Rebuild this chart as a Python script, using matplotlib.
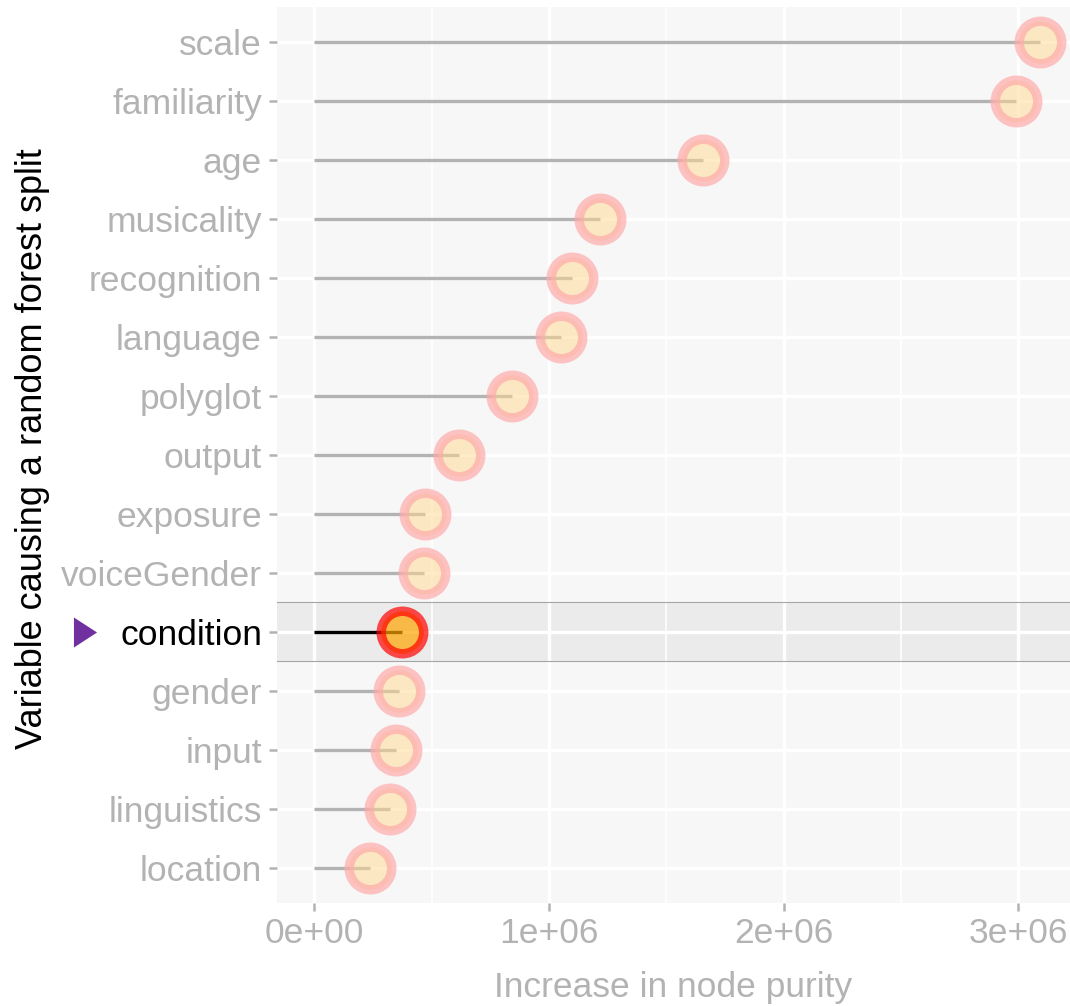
import matplotlib
matplotlib.use('Agg')
import matplotlib.pyplot as plt
import matplotlib.transforms as mtransforms
from matplotlib.ticker import MultipleLocator, FuncFormatter

plt.rcParams['font.family'] = ['Liberation Sans', 'DejaVu Sans']

# importancia de cada variable (de arriba a abajo)
variables = ['scale', 'familiarity', 'age', 'musicality', 'recognition',
             'language', 'polyglot', 'output', 'exposure', 'voiceGender',
             'condition', 'gender', 'input', 'linguistics', 'location']
purity = [3.092e6, 2.990e6, 1.656e6, 1.219e6, 1.099e6,
          1.051e6, 0.843e6, 0.617e6, 0.472e6, 0.468e6,
          0.374e6, 0.361e6, 0.348e6, 0.322e6, 0.237e6]
destacada = 'condition'

# el eje y va de abajo hacia arriba
nombres = variables[::-1]
valores = purity[::-1]
pos = list(range(len(nombres)))

fig = plt.figure(figsize=(10.7, 10.06), dpi=100)
ax = fig.add_axes([277 / 1070, 103 / 1006, 793 / 1070, 896 / 1006])
ax.set_facecolor('#F7F7F7')
for s in ax.spines.values():
    s.set_visible(False)

for y, nombre, v in zip(pos, nombres, valores):
    if nombre == destacada:
        ax.axhspan(y - 0.5, y + 0.5, color='#EBEBEB', lw=0, zorder=0.2)
        ax.axhline(y - 0.5, color='#A6A6A6', lw=0.8, zorder=0.6)
        ax.axhline(y + 0.5, color='#A6A6A6', lw=0.8, zorder=0.6)
        color_linea = 'black'
        relleno = (1.0, 0.647, 0.0, 0.7)
        borde = (1.0, 0.0, 0.0, 0.7)
    else:
        color_linea = '#B3B3B3'
        relleno = (1.0, 0.85, 0.56, 0.5)
        borde = (1.0, 0.667, 0.667, 0.7)
    ax.plot([0, v], [y, y], color=color_linea, lw=2.4,
            solid_capstyle='butt', zorder=2)
    ax.scatter([v], [y], s=936, facecolor=relleno, edgecolor=borde,
               linewidths=6.8, zorder=3)

ax.set_xlim(-0.1585e6, 3.22e6)
ax.set_ylim(-0.6, 14.6)

ax.xaxis.set_major_locator(MultipleLocator(1e6))
ax.xaxis.set_minor_locator(MultipleLocator(0.5e6))
ax.xaxis.set_major_formatter(FuncFormatter(lambda v, p: format(v, '.0e')))
ax.set_yticks(pos)
ax.set_yticklabels(nombres)

ax.set_axisbelow(True)
ax.grid(which='major', color='white', lw=2.4)
ax.grid(which='minor', axis='x', color='white', lw=1.2)

ax.tick_params(axis='both', which='major', length=5.8, width=1.8,
               color='#B3B3B3', labelsize=25.5, labelcolor='#B3B3B3')
ax.tick_params(axis='x', which='minor', length=0)
ax.tick_params(axis='y', pad=5)
ax.tick_params(axis='x', pad=4)

i = nombres.index(destacada)
ax.get_yticklabels()[i].set_color('black')
ax.yaxis.get_major_ticks()[i].tick1line.set_color('#333333')

# flecha morada junto a la variable destacada
trans = mtransforms.blended_transform_factory(ax.transAxes, ax.transData)
ax.plot([-0.2415], [pos[i]], marker=[(-0.77, -1), (-0.77, 1), (0.77, 0)],
        ms=21.6, color='#7030A0', mec='none', transform=trans, clip_on=False)

fig.text(33 / 1070, 1 - 449 / 1006, 'Variable causing a random forest split',
         rotation=90, ha='center', va='center', fontsize=26, color='black')
fig.text(673.5 / 1070, 1 - 997 / 1006, 'Increase in node purity',
         ha='center', va='baseline', fontsize=25.5, color='#B3B3B3')

fig.savefig('out.png', dpi=100)
